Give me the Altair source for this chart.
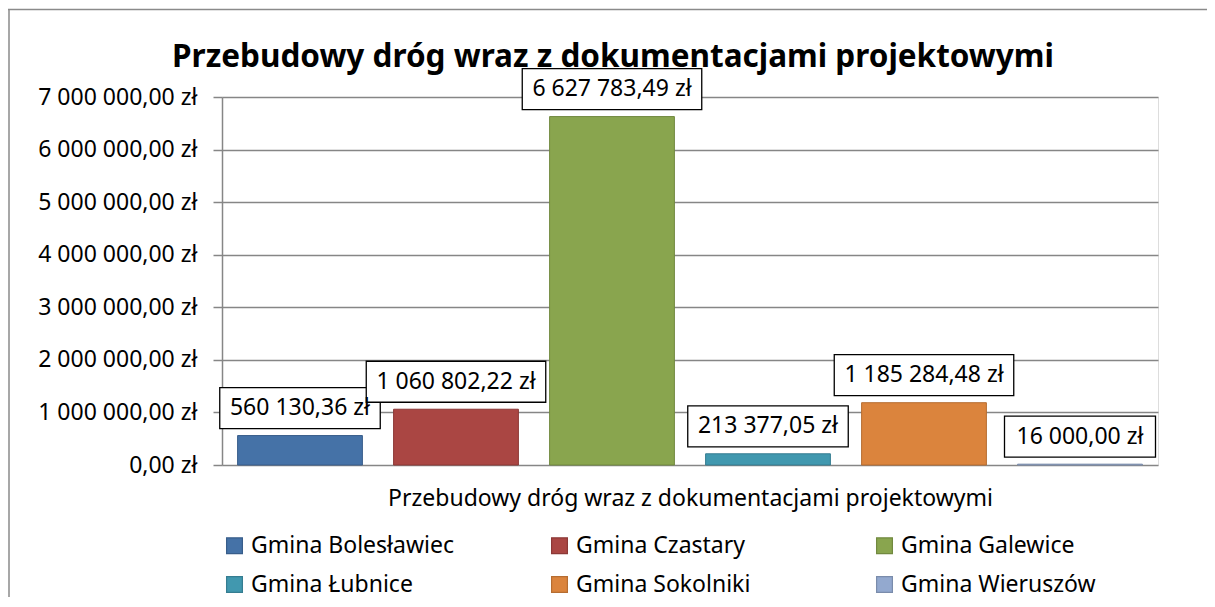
import altair as alt
import pandas as pd

# ---- data ----
gminy = ["Gmina Bolesławiec", "Gmina Czastary", "Gmina Galewice",
         "Gmina Łubnice", "Gmina Sokolniki", "Gmina Wieruszów"]
kwoty = [560130.36, 1060802.22, 6627783.49, 213377.05, 1185284.48, 16000.00]
kolory = ["#4572A7", "#AA4643", "#89A54E", "#4198AF", "#DB843D", "#93A9CF"]
obrysy = ["#385D8A", "#8C3836", "#71893F", "#357D91", "#B66D31", "#7A8CAB"]
y_ticks = [0, 1000000, 2000000, 3000000, 4000000, 5000000, 6000000, 7000000]
kategoria = "Przebudowy dróg wraz z dokumentacjami projektowymi"
tytul = "Przebudowy dróg wraz z dokumentacjami projektowymi"


def fmt(v):
    return f"{v:,.2f}".replace(",", " ").replace(".", ",") + " zł"


df = pd.DataFrame({
    "gmina": gminy,
    "kwota": kwoty,
    "idx": list(range(len(gminy))),
    "etykieta": [fmt(v) for v in kwoty],
})

W, H = 936, 368
FONT = "Noto Sans"
FS = 23
unit = W / 6.0  # px per category

x_scale = alt.Scale(domain=[0, 6], nice=False, zero=False)
y_scale = alt.Scale(domain=[0, 7000000], nice=False)

leg = dict(title=None, orient="none", legendX=1, legendY=437, columns=3,
           direction="horizontal", symbolType="square", symbolSize=250,
           symbolStrokeWidth=1.2, labelFont=FONT, labelFontSize=FS,
           labelColor="#000", labelOffset=5, columnPadding=94, rowPadding=15,
           gridAlign="all", labelLimit=400)

base = alt.Chart(df).transform_calculate(
    x0="datum.idx + 0.1",
    x1="datum.idx + 0.9",
    xc="datum.idx + 0.5",
    bx0=f"datum.idx + 0.5 - (9.5 * length(datum.etykieta) + 37) / 2 / {unit}",
    bx1=f"datum.idx + 0.5 + (9.5 * length(datum.etykieta) + 37) / 2 / {unit}",
)

bars = base.mark_bar(strokeWidth=1).encode(
    x=alt.X("x0:Q", scale=x_scale,
            axis=alt.Axis(title=kategoria, labels=False, ticks=False, grid=False,
                          domain=False, titleFont=FONT, titleFontSize=FS,
                          titleFontWeight="normal", titleColor="#000",
                          titlePadding=22)),
    x2="x1:Q",
    y=alt.Y("kwota:Q", scale=y_scale,
            axis=alt.Axis(title=None, values=y_ticks,
                          labelExpr="replace(replace(format(datum.value, ',.2f'), regexp(',', 'g'), ' '), '.', ',') + ' zł'",
                          labelFont=FONT, labelFontSize=FS, labelColor="#000",
                          labelPadding=16, tickSize=9, tickColor="#868686",
                          domainColor="#868686", gridColor="#868686",
                          gridWidth=1.5, domainWidth=1.5, tickWidth=1.5)),
    y2=alt.datum(0),
    color=alt.Color("gmina:N", scale=alt.Scale(domain=gminy, range=kolory),
                    legend=alt.Legend(**leg)),
    stroke=alt.Stroke("gmina:N", scale=alt.Scale(domain=gminy, range=obrysy),
                      legend=alt.Legend(**leg)),
)

boxes = base.mark_rect(fill="white", stroke="black", strokeWidth=1.3,
                       yOffset=-7, y2Offset=-48).encode(
    x=alt.X("bx0:Q", scale=x_scale),
    x2="bx1:Q",
    y=alt.Y("kwota:Q", scale=y_scale),
    y2="kwota:Q",
)

labels = base.mark_text(font=FONT, fontSize=FS, color="#000",
                        baseline="middle", align="center", dy=-27.5).encode(
    x=alt.X("xc:Q", scale=x_scale),
    y=alt.Y("kwota:Q", scale=y_scale),
    text="etykieta:N",
)

title = alt.Chart(pd.DataFrame({"t": [tytul]})).mark_text(
    font=FONT, fontSize=31.5, fontWeight="bold", color="#000",
    align="center", baseline="alphabetic").encode(
    x=alt.value(391), y=alt.value(-30), text="t:N")

border_top = alt.Chart(pd.DataFrame({"a": [0]})).mark_rule(
    color="#8a8a8a", strokeWidth=1.5).encode(
    x=alt.value(-214), x2=alt.value(990), y=alt.value(-87.5))
border_left = alt.Chart(pd.DataFrame({"a": [0]})).mark_rule(
    color="#8a8a8a", strokeWidth=1.5).encode(
    x=alt.value(-213), y=alt.value(-88), y2=alt.value(505))

chart = alt.layer(bars, boxes, labels, title, border_top, border_left).properties(
    width=W, height=H,
    autosize=alt.AutoSizeParams(type="none"),
    padding={"left": 214, "top": 89, "right": 49, "bottom": 132},
    background="white",
).configure_view(fill="#E6E6E6", stroke=None).configure(font=FONT)

chart.save("out.html", embed_options={"renderer": "svg", "actions": False})
